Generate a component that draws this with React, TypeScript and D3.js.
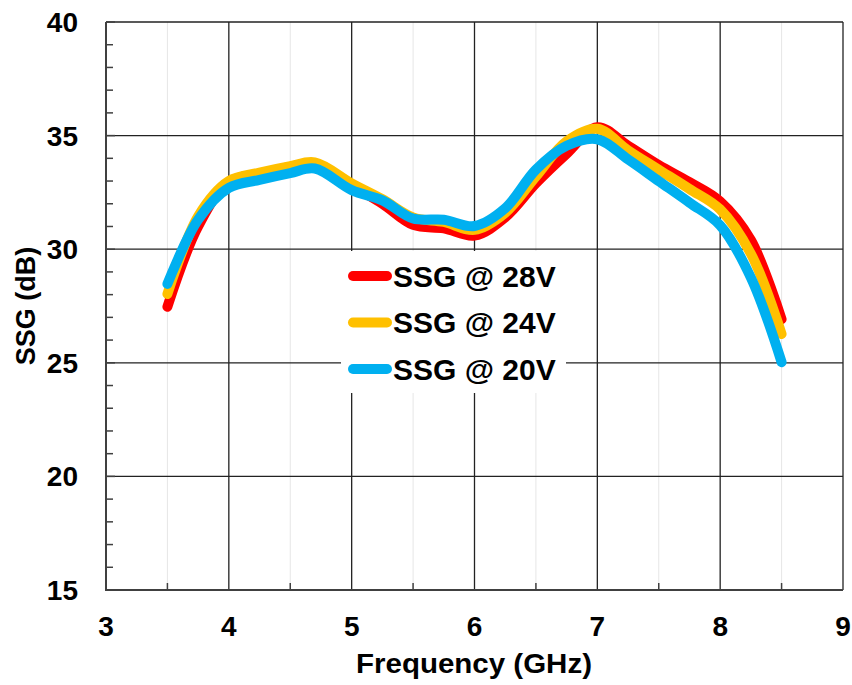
import React, { useEffect, useRef } from "react";
import { select, scaleLinear, line, curveCatmullRom, range } from "d3";

const freqs = [3.5, 3.75, 4.0, 4.25, 4.5, 4.7, 5.0, 5.25, 5.5, 5.75, 6.0, 6.25, 6.5, 6.75, 7.0, 7.25, 7.5, 7.75, 8.0, 8.25, 8.5];
const ssg28 = [27.47, 31.0, 32.95, 33.32, 33.62, 33.78, 32.8, 32.0, 31.07, 30.92, 30.6, 31.4, 32.9, 34.2, 35.37, 34.55, 33.7, 32.95, 32.1, 30.4, 26.92];
const ssg24 = [28.03, 31.45, 33.0, 33.37, 33.66, 33.82, 32.9, 32.2, 31.4, 31.2, 30.85, 31.6, 33.2, 34.75, 35.3, 34.35, 33.5, 32.65, 31.75, 29.8, 26.27];
const ssg20 = [28.47, 31.3, 32.7, 33.05, 33.35, 33.55, 32.6, 32.15, 31.35, 31.3, 31.02, 31.8, 33.5, 34.55, 34.84, 33.95, 33.0, 32.05, 31.05, 28.75, 25.03];
const seriesNames = ["SSG @ 28V", "SSG @ 24V", "SSG @ 20V"];
const seriesColors = ["#FF0000", "#FFC000", "#00B0F0"];
const xTicks = [3, 4, 5, 6, 7, 8, 9];
const yTicks = [15, 20, 25, 30, 35, 40];

const FONT = "Arial, 'Liberation Sans', sans-serif";

export default function App() {
  const svgRef = useRef(null);

  useEffect(() => {
    const W = 852, H = 685;
    const M = { left: 106, right: 843, top: 22, bottom: 590 };

    const svg = select(svgRef.current);
    svg.selectAll("*").remove();
    svg.attr("width", W).attr("height", H);

    svg.append("rect").attr("width", W).attr("height", H).attr("fill", "#fff");

    const x = scaleLinear().domain([3, 9]).range([M.left, M.right]);
    const y = scaleLinear().domain([15, 40]).range([M.bottom, M.top]);

    const g = svg.append("g");

    // minor vertical grid
    g.selectAll(".vminor")
      .data(range(3.5, 9, 1))
      .join("line")
      .attr("x1", (d) => x(d)).attr("x2", (d) => x(d))
      .attr("y1", M.top).attr("y2", M.bottom)
      .attr("stroke", "#e6e6e6").attr("stroke-width", 1);

    // major grid
    g.selectAll(".vmajor")
      .data(xTicks.slice(1))
      .join("line")
      .attr("x1", (d) => x(d)).attr("x2", (d) => x(d))
      .attr("y1", M.top).attr("y2", M.bottom)
      .attr("stroke", "#222").attr("stroke-width", 1.3);

    g.selectAll(".hmajor")
      .data(yTicks.slice(1))
      .join("line")
      .attr("x1", M.left).attr("x2", M.right)
      .attr("y1", (d) => y(d)).attr("y2", (d) => y(d))
      .attr("stroke", "#222").attr("stroke-width", 1.3);

    // y minor ticks
    g.selectAll(".ytick")
      .data(range(15, 41, 1))
      .join("line")
      .attr("x1", M.left).attr("x2", (d) => M.left + (d % 5 === 0 ? 9 : 7))
      .attr("y1", (d) => y(d)).attr("y2", (d) => y(d))
      .attr("stroke", "#404040").attr("stroke-width", 1.5);

    // x minor ticks
    g.selectAll(".xtick")
      .data(range(3.5, 9, 1))
      .join("line")
      .attr("x1", (d) => x(d)).attr("x2", (d) => x(d))
      .attr("y1", M.bottom).attr("y2", M.bottom - 7)
      .attr("stroke", "#404040").attr("stroke-width", 1.5);

    // axes
    g.append("line")
      .attr("x1", M.left).attr("x2", M.left)
      .attr("y1", M.top).attr("y2", M.bottom + 1)
      .attr("stroke", "#404040").attr("stroke-width", 2);
    g.append("line")
      .attr("x1", M.left - 1).attr("x2", M.right)
      .attr("y1", M.bottom).attr("y2", M.bottom)
      .attr("stroke", "#404040").attr("stroke-width", 2);

    // tick labels
    g.selectAll(".ylab")
      .data(yTicks)
      .join("text")
      .text((d) => d)
      .attr("x", 78)
      .attr("y", (d) => y(d))
      .attr("dy", "0.36em")
      .attr("text-anchor", "end")
      .attr("font-family", FONT)
      .attr("font-weight", "bold")
      .attr("font-size", "28px");

    g.selectAll(".xlab")
      .data(xTicks)
      .join("text")
      .text((d) => d)
      .attr("x", (d) => x(d))
      .attr("y", 636)
      .attr("text-anchor", "middle")
      .attr("font-family", FONT)
      .attr("font-weight", "bold")
      .attr("font-size", "28px");

    // axis titles
    g.append("text")
      .text("Frequency (GHz)")
      .attr("x", 474)
      .attr("y", 673)
      .attr("text-anchor", "middle")
      .attr("font-family", FONT)
      .attr("font-weight", "bold")
      .attr("font-size", "28px")
      .attr("textLength", 236)
      .attr("lengthAdjust", "spacingAndGlyphs");

    g.append("text")
      .text("SSG (dB)")
      .attr("transform", "translate(35, 306) rotate(-90)")
      .attr("text-anchor", "middle")
      .attr("font-family", FONT)
      .attr("font-weight", "bold")
      .attr("font-size", "27px");

    // series
    const seriesData = [ssg28, ssg24, ssg20];
    const lineGen = line()
      .x((d) => x(d[0]))
      .y((d) => y(d[1]))
      .curve(curveCatmullRom.alpha(0.5));

    seriesData.forEach((vals, i) => {
      const pts = freqs.map((f, j) => [f, vals[j]]);
      g.append("path")
        .attr("d", lineGen(pts))
        .attr("fill", "none")
        .attr("stroke", seriesColors[i])
        .attr("stroke-width", 10)
        .attr("stroke-linecap", "round")
        .attr("stroke-linejoin", "round");
    });

    // legend
    const leg = g.append("g");
    leg.append("rect")
      .attr("x", 341).attr("y", 251)
      .attr("width", 225).attr("height", 142)
      .attr("fill", "#fff");

    seriesNames.forEach((name, i) => {
      const cy = 276 + i * 46.5;
      leg.append("line")
        .attr("x1", 353).attr("x2", 387)
        .attr("y1", cy).attr("y2", cy)
        .attr("stroke", seriesColors[i])
        .attr("stroke-width", 10)
        .attr("stroke-linecap", "round");
      leg.append("text")
        .text(name)
        .attr("x", 393)
        .attr("y", cy)
        .attr("dy", "0.36em")
        .attr("font-family", FONT)
        .attr("font-weight", "bold")
        .attr("font-size", "30px");
    });
  }, []);

  return (
    <svg ref={svgRef} style={{ position: "absolute", left: 0, top: 0 }}></svg>
  );
}
